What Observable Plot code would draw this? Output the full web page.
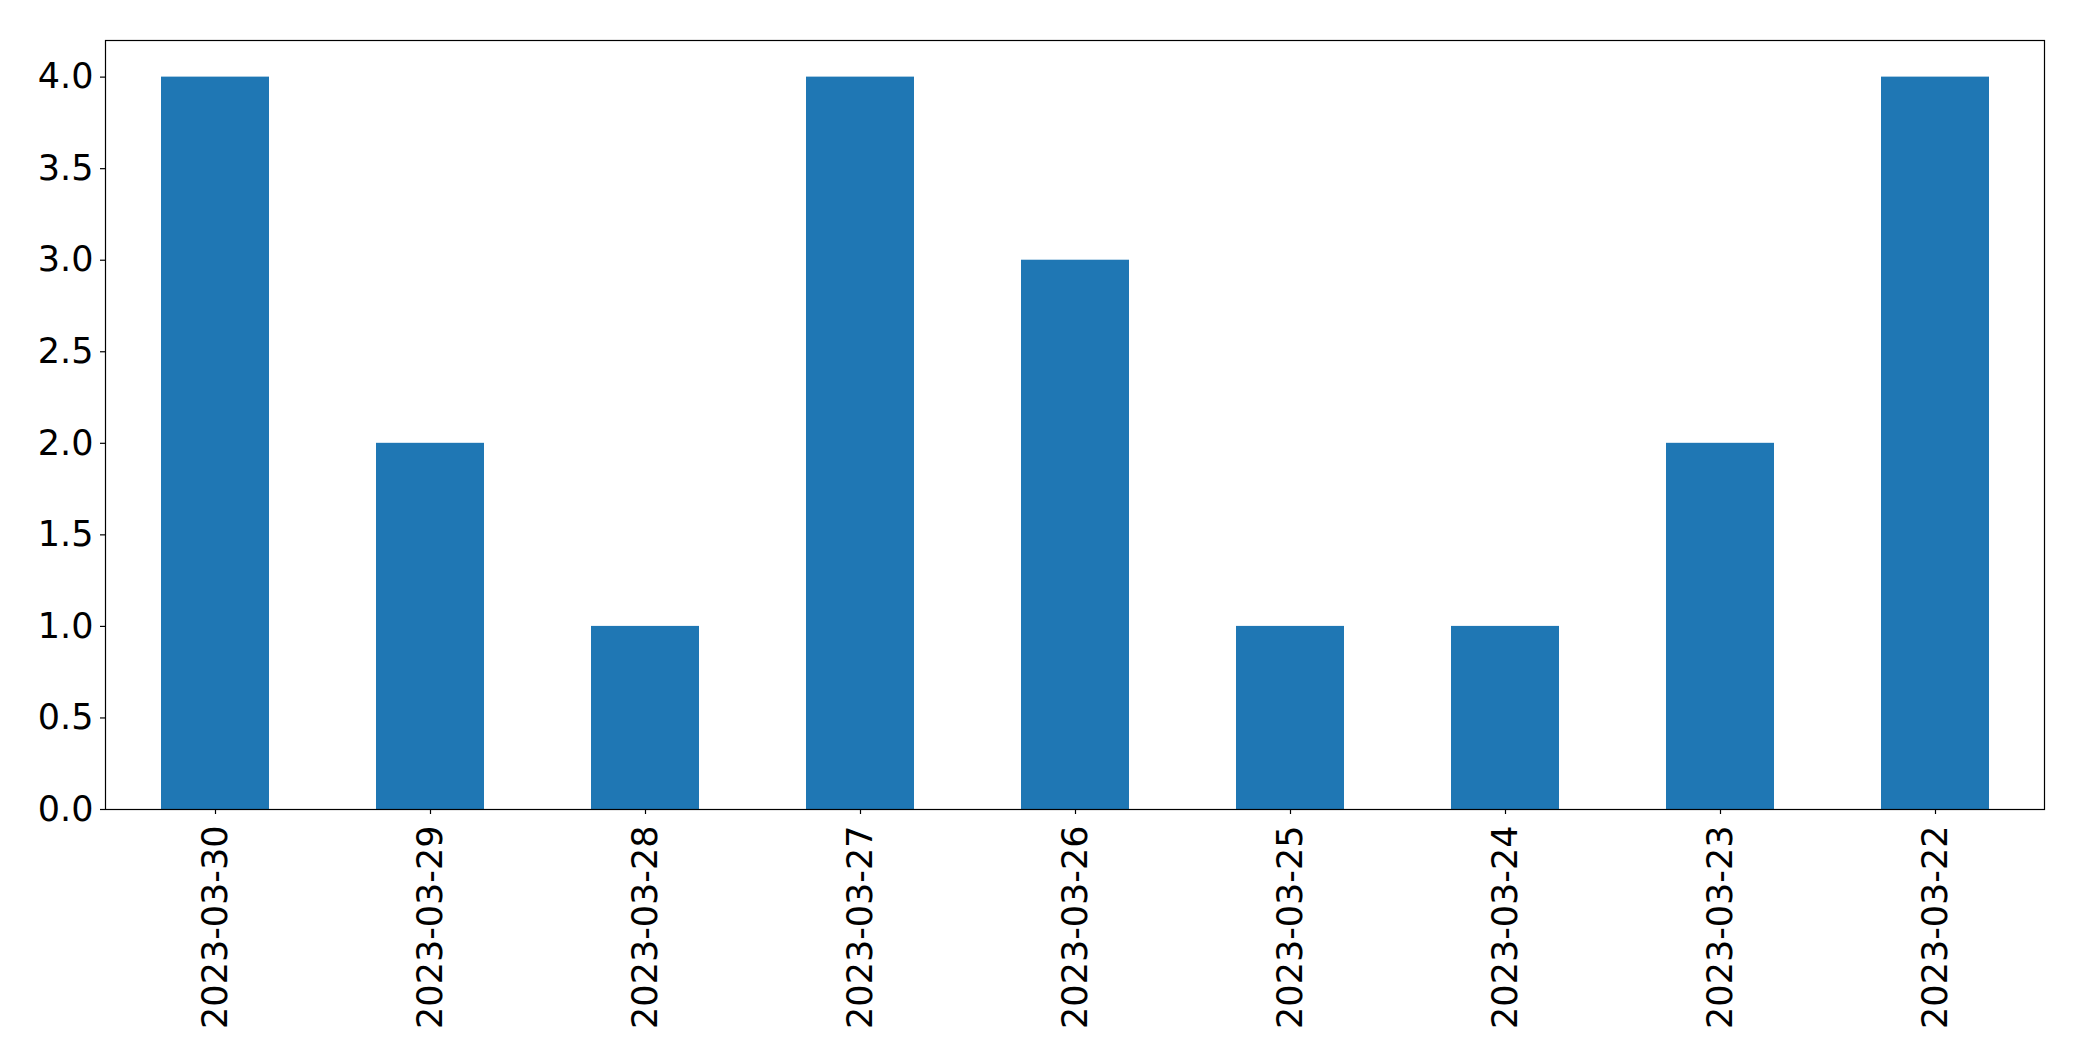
<!DOCTYPE html>
<html>
<head>
<meta charset="utf-8">
<script src="https://cdn.jsdelivr.net/npm/d3@7"></script>
<script src="https://cdn.jsdelivr.net/npm/@observablehq/plot@0.6"></script>
<style>
  html, body { margin: 0; padding: 0; background: #fff; }
  #chart svg { display: block; }
</style>
</head>
<body>
<div id="chart"></div>
<script>
const dates = ["2023-03-30","2023-03-29","2023-03-28","2023-03-27","2023-03-26","2023-03-25","2023-03-24","2023-03-23","2023-03-22"];
const counts = [4, 2, 1, 4, 3, 1, 1, 2, 4];
const yTicks = [0, 0.5, 1, 1.5, 2, 2.5, 3, 3.5, 4];

const data = dates.map((d, i) => ({date: d, count: counts[i]}));

const chart = Plot.plot({
  width: 2082,
  height: 1061,
  marginLeft: 105,
  marginRight: 38,
  marginTop: 40,
  marginBottom: 252,
  style: {fontFamily: "DejaVu Sans", fontSize: "35px", color: "#000", background: "#fff"},
  x: {type: "band", domain: dates, paddingInner: 0.5, paddingOuter: 0.25, label: null},
  y: {domain: [0, 4.2], label: null},
  marks: [
    Plot.barY(data, {x: "date", y: "count", fill: "#1f77b4"}),
    Plot.frame({stroke: "#000", strokeWidth: 1.2}),
    Plot.axisY({ticks: yTicks, tickFormat: d3.format(".1f"), tickSize: 5, tickPadding: 7, label: null, strokeWidth: 1.2, fontSize: 35}),
    Plot.axisX({tickSize: 5, tickRotate: -90, tickPadding: 11, label: null, strokeWidth: 1.2, fontSize: 35})
  ]
});
document.getElementById("chart").appendChild(chart);
</script>
</body>
</html>
